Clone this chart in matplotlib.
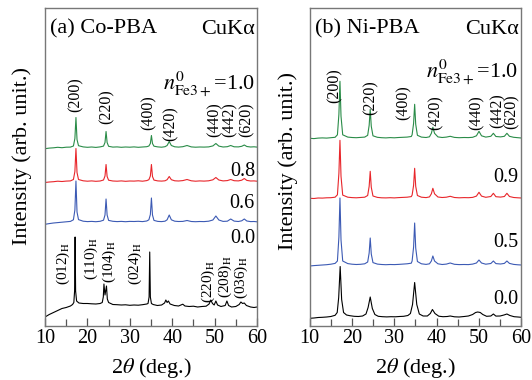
import matplotlib
matplotlib.use("Agg")
import matplotlib.pyplot as plt
from matplotlib.ticker import MultipleLocator

plt.rcParams["font.family"] = ["Liberation Serif", "DejaVu Serif"]
plt.rcParams["mathtext.fontset"] = "stix"

# ---------------- (a) Co-PBA ----------------
tt_a = [10, 11, 12, 13, 14, 15, 16, 16.7, 17.05, 17.3, 17.55, 17.9, 19, 20, 21, 22, 23,
        23.8, 24.15, 24.4, 24.65, 25.0, 26, 27, 28, 29, 30, 31, 32, 33, 34, 34.5, 34.85,
        35.1, 35.35, 35.7, 36.6, 37.5, 38.3, 38.8, 39.3, 39.8, 40.6, 41.5, 42.5, 43.5,
        44.5, 45.5, 46.5, 47.5, 48.6, 49.6, 50.3, 51.0, 52.0, 53.0, 53.8, 54.6, 55.6,
        56.4, 57.0, 57.6, 58.5, 59.3, 60]
co_10 = [-1.2, -0.6, -0.3, 0.2, -0.2, 0.3, 0.4, 1.5, 9, 30, 8, 1.8, 0.6, 0.2, 0.5, 0.1,
         0.6, 1.4, 5, 16, 5, 1.2, 0.4, 0.6, 0.2, 0.5, 0.3, 0.6, 0.2, 0.5, 0.8, 1.5,
         4, 12, 4, 1.3, 0.6, 0.3, 0.8, 2, 6, 2, 0.7, 0.4, 0.8, 2, 0.6, 0.3, 0.5, 0.4,
         0.6, 1.6, 4, 1.4, 0.5, 0.8, 2, 0.7, 0.6, 1.2, 2.5, 1.0, 0.5, 0.7, 0.4]
co_08 = [-1.0, -0.5, -0.2, 0.3, 0.0, 0.4, 0.6, 2.0, 10, 33, 9, 2.0, 0.7, 0.3, 0.6, 0.2,
         0.5, 1.5, 5.5, 17, 5, 1.3, 0.5, 0.3, 0.6, 0.2, 0.5, 0.4, 0.7, 0.3, 0.9, 1.8, 5.5,
         17, 5, 1.4, 0.6, 0.4, 0.7, 1.8, 5, 1.8, 0.7, 0.5, 0.9, 2, 0.7, 0.3, 0.6, 0.4,
         0.7, 1.7, 4, 1.5, 0.6, 0.9, 2, 0.8, 0.6, 1.3, 3, 1.1, 0.5, 0.6, 0.3]
co_06 = [-2.3, -1.6, -1.0, -0.6, -0.2, 0.2, 0.6, 2.2, 12, 41, 10, 2.4, 0.8, 0.4, 0.6, 0.3,
         0.7, 1.8, 7, 23, 7, 1.6, 0.7, 0.4, 0.6, 0.3, 0.6, 0.5, 0.7, 0.4, 1.0, 2.2, 7.5,
         24, 7, 1.6, 0.6, 0.4, 0.8, 2.2, 7, 2.2, 0.8, 0.5, 0.6, 1.5, 0.5, 0.3, 0.5, 0.4,
         0.8, 2, 6, 2, 0.6, 0.8, 3, 0.9, 0.5, 1.2, 3, 1.0, 0.4, 0.5, 0.2]
# n = 0.0 sample (rhombohedral phase)
tt_co_00 = [10, 11, 12, 13, 14, 15, 16, 16.5, 16.8, 16.98, 17.1, 17.22, 17.45, 18, 19, 20,
            21, 22, 23, 23.5, 23.75, 23.9, 24.15, 24.5, 24.7, 25.0, 26, 27, 28, 29, 30, 31,
            32, 33, 34, 34.3, 34.55, 34.7, 34.85, 35.1, 35.5, 36.5, 37.5, 38.2, 38.5, 38.8,
            39.1, 39.5, 40.5, 41.5, 42.5, 43, 44, 45, 46, 47, 48, 48.7, 49.1, 49.5, 49.9,
            50.3, 50.7, 51.5, 52.5, 52.9, 53.3, 54, 55, 55.8, 56.2, 56.6, 57.0, 57.5, 58.5,
            59.3, 60]
co_00 = [-12, -9.5, -7.5, -5.5, -3.5, -2.5, -1.0, 0.5, 2.5, 14, 68, 14, 4, 2, 1.5, 1.5,
         1.2, 1.0, 1.5, 2.5, 8, 21, 10, 19, 6, 2.5, 0.5, 0.3, 0, 0.2, -0.3, 0, -0.2, 0.3,
         1.0, 1.5, 8, 53, 8, 1.5, 0.5, -0.5, 0, 2, 5, 2.5, 4, 1, -0.5, -1, 0.8, -1, -1.5,
         -1.2, -2, -1.5, -1.2, 1, 5, 1.5, 0, 4, 0, -1.5, -0.5, 4, -0.5, -2, -1.5, 0.5, 3,
         1.5, 2, -0.5, -2, -2.5, -2]

# ---------------- (b) Ni-PBA ----------------
tt_b = [10, 11, 12, 13, 14, 15, 16, 16.55, 16.9, 17.15, 17.4, 17.8, 19, 20, 21, 22, 23,
        23.7, 24.05, 24.3, 24.55, 24.95, 26, 27, 28, 29, 30, 31, 32, 33, 34, 34.2, 34.55,
        34.8, 35.05, 35.45, 36.4, 37.5, 38.3, 38.75, 39.1, 39.5, 40.3, 41.3, 42.3, 43.2,
        44.2, 45.3, 46.5, 47.5, 48.5, 49.4, 50.0, 50.6, 51.6, 52.8, 53.4, 54.0, 55.1,
        56.0, 56.6, 57.2, 58.2, 59.2, 60]
ni_10 = [0.0, -0.3, 0.2, 0.4, 0.2, 0.6, 1.0, 3.5, 24, 57, 22, 3.5, 1.2, 0.8, 0.6, 0.9,
         1.2, 3, 13, 29, 12, 2.5, 1.0, 0.6, 0.4, 0.7, 0.5, 0.8, 1.0, 1.2, 1.8, 3.5, 15,
         34, 14, 3, 1.2, 0.8, 1.5, 5, 11, 5, 1.4, 0.8, 1.2, 2, 0.9, 0.6, 0.8, 0.7, 1.0,
         2.5, 7, 2.5, 1.2, 2, 5, 1.8, 1.4, 2, 5, 2, 1.0, 0.6, 0.3]
ni_09 = [0.0, -0.2, 0.3, 0.2, 0.5, 0.6, 1.1, 3.5, 25, 58, 22, 3.2, 1.1, 0.7, 0.5, 0.8,
         1.1, 2.8, 12, 27, 11, 2.3, 0.9, 0.5, 0.4, 0.6, 0.4, 0.7, 0.9, 1.1, 1.7, 3.2, 13,
         30, 12, 2.8, 1.1, 0.7, 1.4, 4.5, 10, 4.5, 1.3, 0.8, 1.1, 2, 0.8, 0.5, 0.7, 0.6,
         0.9, 2.2, 6, 2.2, 1.0, 1.8, 5, 1.6, 1.2, 1.8, 5, 1.8, 0.8, 0.5, 0.3]
ni_05 = [-1.0, -0.6, -0.3, 0.0, 0.3, 0.8, 1.6, 4, 28, 67, 25, 4, 1.4, 0.8, 0.5, 0.7,
         1.2, 3, 12, 27, 11, 2.4, 0.9, 0.5, 0.3, 0.5, 0.4, 0.6, 0.9, 1.2, 1.8, 4, 18, 42,
         17, 3.5, 1.2, 0.6, 1.2, 4, 9, 4, 1.2, 0.5, 0.9, 2, 0.7, 0.4, 0.5, 0.4, 0.9,
         2, 5, 2, 0.8, 1.5, 4, 1.4, 1.0, 1.6, 4, 1.6, 0.6, 0.2, 0.0]
tt_ni_00 = [10, 11, 12, 13, 14, 15, 16, 16.5, 16.85, 17.2, 17.55, 18.0, 18.7, 19.5, 20.5,
            21.5, 22.5, 23.3, 23.8, 24.3, 24.8, 25.4, 26.2, 27.2, 28.2, 29.2, 30.2, 31.2,
            32.2, 33.2, 33.8, 34.3, 34.8, 35.3, 35.9, 36.8, 37.8, 38.5, 39.0, 39.6, 40.5,
            41.5, 42.5, 43.2, 44.2, 45.3, 46.5, 47.5, 48.5, 49.2, 49.7, 50.3, 50.9, 51.8,
            52.8, 53.4, 54.0, 55.0, 55.9, 56.6, 57.3, 58.3, 59.2, 60]
ni_00 = [-0.8, -0.5, 0.0, 0.2, 0.5, 1.0, 2.2, 5, 20, 51, 18, 5, 2.5, 1.8, 1.2, 1.0, 1.5,
         3.5, 10, 20.5, 9, 3, 1.2, 0.8, 0.6, 0.8, 0.7, 1.0, 1.2, 2.0, 4, 13, 35, 13, 3.5,
         1.5, 1.5, 4, 8, 4, 1.3, 0.8, 1.0, 1.5, 0.7, 0.5, 1.0, 1.5, 3, 5, 5.5, 5, 3, 1.2,
         1.5, 3.5, 1.4, 1.5, 2.5, 3.5, 2.0, 0.8, 0.5, 0.2]

# vertical stacking offsets of each pattern (arb. unit)
offsets_a = [178.5, 144.5, 104.0, 21.0]
offsets_b = [187.7, 127.7, 61.0, 8.5]
labels_a = ["1.0", "0.8", "0.6", "0.0"]
labels_b = ["1.0", "0.9", "0.5", "0.0"]
colors = ["#2a8c48", "#e8262b", "#3c5ab4", "#000000"]

cubic_hkl = ["(200)", "(220)", "(400)", "(420)", "(440)", "(442)", "(620)"]
hex_hkl = ["(012)", "(110)", "(104)", "(024)", "(220)", "(208)", "(036)"]

fig = plt.figure(figsize=(5.32, 3.80), dpi=100)
W, H = 532.0, 380.0


def make_axes(left_px, right_px):
    ax = fig.add_axes([left_px / W, 1 - 326 / H, (right_px - left_px) / W, (326 - 7.5) / H])
    ax.set_xlim(10, 60)
    ax.set_ylim(0, 318.5)
    ax.set_yticks([])
    ax.xaxis.set_major_locator(MultipleLocator(10))
    ax.xaxis.set_minor_locator(MultipleLocator(5))
    ax.tick_params(axis="x", which="both", direction="in", colors="#555555",
                   labelcolor="black", labelsize=14.5, pad=2.5)
    ax.tick_params(axis="x", which="major", length=6, width=0.9)
    ax.tick_params(axis="x", which="minor", length=5, width=0.9)
    for s in ax.spines.values():
        s.set_color("#777777")
        s.set_linewidth(1.0)
    return ax


ax_a = make_axes(45, 257)
ax_b = make_axes(309.7, 521.3)

series_a = [(tt_a, co_10), (tt_a, co_08), (tt_a, co_06), (tt_co_00, co_00)]
series_b = [(tt_b, ni_10), (tt_b, ni_09), (tt_b, ni_05), (tt_ni_00, ni_00)]

for ax, series, offs in ((ax_a, series_a, offsets_a), (ax_b, series_b, offsets_b)):
    for (x, y), off, c in zip(series, offs, colors):
        ax.plot(x, [v + off for v in y], color=c, lw=0.8)

# panel headers
ax_a.text(11.2, 326 - 33.5, "(a) Co-PBA", fontsize=16, ha="left", va="baseline")
ax_b.text(11.3, 326 - 33.5, "(b) Ni-PBA", fontsize=16, ha="left", va="baseline")
for ax in (ax_a, ax_b):
    ax.text(59.5, 326 - 33.5, "CuKα", fontsize=16, ha="right", va="baseline")

# composition labels
ax_a.text(59.5, 326 - 89.3, r"$n^{0}_{\mathrm{Fe3+}}$=" + labels_a[0], fontsize=16,
          ha="right", va="baseline")
ax_b.text(59.2, 326 - 77.3, r"$n^{0}_{\mathrm{Fe3+}}$=" + labels_b[0], fontsize=16,
          ha="right", va="baseline")
for lab, py in zip(labels_a[1:], [175.7, 208.3, 243.3]):
    ax_a.text(59.5, 326 - py, lab, fontsize=14.5, ha="right", va="baseline")
for lab, py in zip(labels_b[1:], [181.7, 247.3, 304.0]):
    ax_b.text(59.2, 326 - py, lab, fontsize=14.5, ha="right", va="baseline")

# Miller indices of the cubic phase
pos_a = [(17.3, 231), (24.6, 219.3), (34.5, 213), (39.6, 202.5), (49.9, 206), (53.6, 206), (57.6, 206)]
pos_b = [(15.9, 240), (24.3, 228.5), (32.2, 223.5), (39.7, 213.5), (49.5, 213), (54.3, 215), (57.8, 214)]
for ax, pos in ((ax_a, pos_a), (ax_b, pos_b)):
    for hkl, (x, y) in zip(cubic_hkl, pos):
        ax.text(x, y, hkl, rotation=90, fontsize=11.5, ha="center", va="center")

# Miller indices of the rhombohedral phase (n = 0.0, Co-PBA)
pos_h = [(14.3, 62.7), (20.9, 67), (25.1, 64.5), (31.4, 62.7), (48.6, 44.5), (52.6, 49), (56.3, 48)]
for hkl, (x, y) in zip(hex_hkl, pos_h):
    ax_a.text(x, y, hkl + r"$_{\mathrm{H}}$", rotation=90, fontsize=11, ha="center", va="center")

# axis titles
for cx_px in (151, 415.5):
    fig.text(cx_px / W, 1 - 372.5 / H, r"2$\theta$ (deg.)", fontsize=16, ha="center", va="baseline")
fig.text(22 / W, 1 - 156 / H, "Intensity (arb. unit.)", fontsize=16, rotation=90, ha="center", va="center")
fig.text(288.5 / W, 1 - 161 / H, "Intensity (arb. unit.)", fontsize=16, rotation=90, ha="center", va="center")

fig.savefig("out.png", dpi=100)
